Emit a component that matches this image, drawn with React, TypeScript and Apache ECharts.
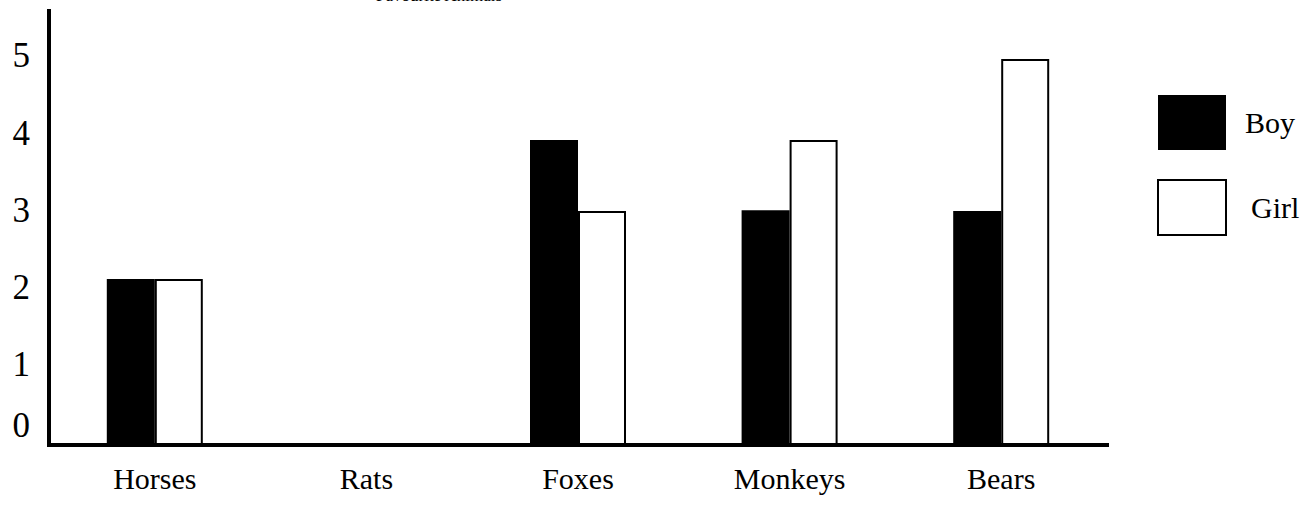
import React, { useEffect, useRef } from "react";
import * as echarts from "echarts";

const titleText = "Favourite Animals";
const categories = ["Horses", "Rats", "Foxes", "Monkeys", "Bears"];
const boyValues = [2.15, 0, 3.95, 3.04, 3.03];
const girlValues = [2.15, 0, 3.03, 3.95, 5.0];
const yTicks = [0, 1, 2, 3, 4, 5];

const FONT = "'Liberation Serif', 'Times New Roman', serif";

export default function App() {
  const ref = useRef<HTMLDivElement>(null);
  useEffect(() => {
    if (!ref.current) return;
    const chart = echarts.init(ref.current, undefined, { renderer: "svg" });
    chart.setOption({
      animation: false,
      backgroundColor: "#ffffff",
      title: {
        text: titleText,
        left: 376,
        top: -13,
        padding: 0,
        textStyle: { fontFamily: FONT, fontSize: 17, fontWeight: "normal", color: "#000" },
      },
      legend: {
        orient: "vertical",
        left: 1152,
        top: 90,
        itemWidth: 68,
        itemHeight: 55,
        itemGap: 29,
        icon: "rect",
        data: ["Boy", "Girl"],
        formatter: (name: string) => (name === "Girl" ? "{g|" + name + "}" : "{b|" + name + "}"),
        textStyle: {
          fontFamily: FONT,
          fontSize: 30,
          color: "#000",
          rich: {
            b: { fontFamily: FONT, fontSize: 30, color: "#000", padding: [0, 0, 0, 14] },
            g: { fontFamily: FONT, fontSize: 30, color: "#000", padding: [0, 0, 0, 20] },
          },
        },
      },
      grid: { left: 49, right: 198, top: 11, bottom: 66, containLabel: false },
      xAxis: {
        type: "category",
        data: categories,
        axisLine: { show: true, lineStyle: { color: "#000", width: 4, cap: "square" } },
        axisTick: { show: false },
        axisLabel: { fontFamily: FONT, fontSize: 30, color: "#000", margin: 18 },
        splitLine: { show: false },
      },
      yAxis: {
        type: "value",
        min: 0,
        max: 5.62,
        interval: 1,
        axisLine: { show: true, lineStyle: { color: "#000", width: 4, cap: "square" } },
        axisTick: { show: false },
        splitLine: { show: false },
        axisLabel: {
          fontFamily: FONT,
          fontSize: 35,
          color: "#000",
          margin: 19,
          formatter: (v: number) => {
            if (!yTicks.includes(v)) return "";
            return v === 0 ? "{z|0}" : "{n|" + v + "}";
          },
          rich: {
            z: { fontFamily: FONT, fontSize: 35, color: "#000", padding: [0, 0, 40, 0] },
            n: { fontFamily: FONT, fontSize: 35, color: "#000", padding: [0, 0, 6, 0] },
          },
        },
      },
      series: [
        {
          name: "Boy",
          type: "bar",
          data: boyValues,
          barWidth: 48,
          barGap: "0%",
          itemStyle: { color: "#000", borderColor: "#000", borderWidth: 0 },
        },
        {
          name: "Girl",
          type: "bar",
          data: girlValues,
          barWidth: 48,
          barGap: "0%",
          itemStyle: { color: "#fff", borderColor: "#000", borderWidth: 2 },
        },
      ],
    });
    return () => chart.dispose();
  }, []);
  return (
    <div
      ref={ref}
      style={{ position: "fixed", left: 0, top: 0, width: 1305, height: 511 }}
    />
  );
}
